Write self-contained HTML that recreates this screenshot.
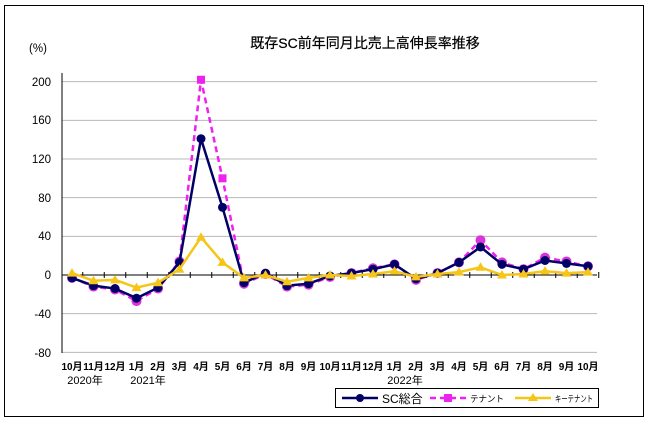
<!DOCTYPE html>
<html><head><meta charset="utf-8">
<style>
body{margin:0;background:#fff;}
svg{display:block;font-family:"Liberation Sans","Noto Sans CJK JP",sans-serif;}
</style></head>
<body>
<svg id="c" width="650" height="421" xmlns="http://www.w3.org/2000/svg">
<rect x="4.5" y="5.5" width="639" height="411" fill="#fff" stroke="#000" stroke-width="1"/>
<text x="365" y="48" font-size="14" text-anchor="middle" fill="#000" stroke="#000" stroke-width="0.2">既存SC前年同月比売上高伸長率推移</text>
<text x="38" y="52" font-size="11.5" text-anchor="middle" fill="#000">(%)</text>
<g id="grid" stroke="#b8b8b8" stroke-width="1"></g>
<line x1="62" y1="73" x2="62" y2="353" stroke="#000" stroke-width="1"/>
<g font-size="11.5" text-anchor="end" fill="#000">
<text x="51" y="86">200</text><text x="51" y="124">160</text><text x="51" y="163">120</text>
<text x="51" y="202">80</text><text x="51" y="240">40</text><text x="51" y="279">0</text>
<text x="51" y="318">-40</text><text x="51" y="357">-80</text>
</g>
<g font-size="10" text-anchor="middle" fill="#000" font-weight="bold">
<text x="72" y="370">10月</text><text x="93.5" y="370">11月</text><text x="115" y="370">12月</text>
<text x="136.5" y="370">1月</text><text x="158" y="370">2月</text><text x="179.5" y="370">3月</text>
<text x="201" y="370">4月</text><text x="222.5" y="370">5月</text><text x="244" y="370">6月</text>
<text x="265.5" y="370">7月</text><text x="287" y="370">8月</text><text x="308.5" y="370">9月</text>
<text x="330" y="370">10月</text><text x="351.5" y="370">11月</text><text x="373" y="370">12月</text>
<text x="394.5" y="370">1月</text><text x="416" y="370">2月</text><text x="437.5" y="370">3月</text>
<text x="459" y="370">4月</text><text x="480.5" y="370">5月</text><text x="502" y="370">6月</text>
<text x="523.5" y="370">7月</text><text x="545" y="370">8月</text><text x="566.5" y="370">9月</text>
<text x="588" y="370">10月</text>
</g>
<g font-size="11" text-anchor="middle" fill="#000">
<text x="85" y="384">2020年</text><text x="148" y="384">2021年</text><text x="405" y="384">2022年</text>
</g>
<g id="series"></g>
<rect x="335.5" y="388.5" width="263" height="19" fill="#fff" stroke="#000"/>
<line x1="342" y1="398" x2="378" y2="398" stroke="#000066" stroke-width="2.5"/>
<circle cx="360" cy="398" r="4" fill="#000066"/>
<text x="382" y="403" font-size="12" fill="#000">SC総合</text>
<line x1="430" y1="398" x2="466" y2="398" stroke="#ee22ee" stroke-width="2.5" stroke-dasharray="6,4"/>
<rect x="444" y="394" width="8" height="8" fill="#ee22ee"/>
<text x="470" y="402" font-size="9" fill="#000" textLength="34" lengthAdjust="spacingAndGlyphs">テナント</text>
<line x1="515" y1="398" x2="551" y2="398" stroke="#f5c518" stroke-width="2.5"/>
<polygon points="533,393 538,401 528,401" fill="#f5c518"/>
<text x="555" y="402" font-size="9" fill="#000" textLength="38" lengthAdjust="spacingAndGlyphs">キーテナント</text>
</svg>
<script>
var sc=[-3,-11,-14,-24,-13,13,141,70,-8,2,-11,-9,-1,2,6,11,-4,2,13,29,11,6,15,12,9];
var tn=[-3,-12,-15,-27,-14,14,202,100,-9,1,-12,-10,-2,2,7,11,-5,2,13,36,13,6,18,14,9];
var kt=[2,-6,-5,-13,-8,6,39,13,-3,0,-7,-3,0,-1,1,4,-2,1,3,8,0,1,4,2,3];
var NS="http://www.w3.org/2000/svg";
function X(i){return 72+21.5*i;} function Y(v){return 275-0.9667*v;}
var g=document.getElementById('grid');
[200,160,120,80,40,-40,-80].forEach(function(v){var l=document.createElementNS(NS,'line');
l.setAttribute('x1',62);l.setAttribute('x2',597);l.setAttribute('y1',Y(v));l.setAttribute('y2',Y(v));g.appendChild(l);});
var s=document.getElementById('series');
function el(t,a){var e=document.createElementNS(NS,t);for(var k in a)e.setAttribute(k,a[k]);s.appendChild(e);return e;}
el('line',{x1:62,x2:597,y1:275,y2:275,stroke:'#000','stroke-width':1});
for(var i=0;i<25;i++){el('line',{x1:X(i)+10.75,x2:X(i)+10.75,y1:272,y2:278,stroke:'#000'});}
function pts(d){return d.map(function(v,i){return X(i)+','+Y(v);}).join(' ');}
el('polyline',{points:pts(tn),fill:'none',stroke:'#ee22ee','stroke-width':2.5,'stroke-dasharray':'6,4'});
tn.forEach(function(v,i){if(i==6||i==7)return;el('circle',{cx:X(i),cy:Y(v),r:5,fill:'#dd33dd'});});
el('polyline',{points:pts(sc),fill:'none',stroke:'#000066','stroke-width':2.5});
sc.forEach(function(v,i){el('circle',{cx:X(i),cy:Y(v),r:4.5,fill:'#000066'});});
el('rect',{x:X(6)-4,y:Y(202)-4,width:8,height:8,fill:'#ee22ee'});
el('rect',{x:X(7)-4,y:Y(100)-4,width:8,height:8,fill:'#ee22ee'});
el('polyline',{points:pts(kt),fill:'none',stroke:'#f5c518','stroke-width':2.5});
kt.forEach(function(v,i){var x=X(i),y=Y(v);el('polygon',{points:x+','+(y-5)+' '+(x+5)+','+(y+3.5)+' '+(x-5)+','+(y+3.5),fill:'#f5c518'});});
</script>
</body></html>
